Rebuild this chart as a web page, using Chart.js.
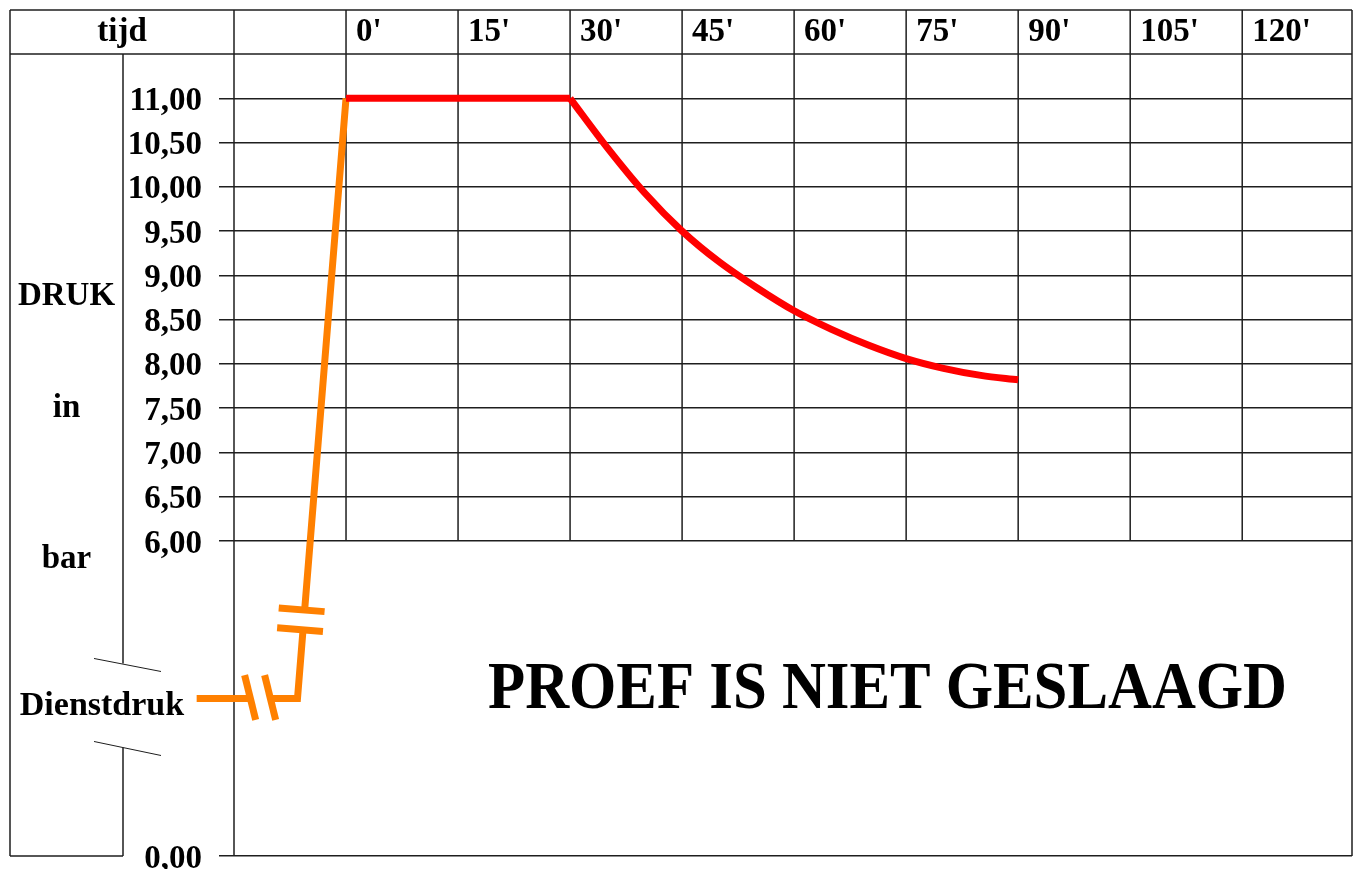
<!DOCTYPE html>
<html lang="nl">
<head>
<meta charset="utf-8">
<title>Drukproef</title>
<script src="https://cdn.jsdelivr.net/npm/chart.js@4.4.1/dist/chart.umd.min.js"></script>
<style>
  html, body { margin: 0; background: #fff; }
  canvas { display: block; }
</style>
</head>
<body>
<canvas id="druk" width="1359" height="869"></canvas>
<script>
// tijd in minuten, druk in bar
const tijdTicks = [-15, 0, 15, 30, 45, 60, 75, 90, 105, 120];
const drukTicks = [0, 6, 6.5, 7, 7.5, 8, 8.5, 9, 9.5, 10, 10.5, 11];
const dienstdruk = 3.0;

// opbouw van dienstdruk naar proefdruk (oranje)
const opbouwTijd = [-20, -6.5, 0];
const opbouwDruk = [dienstdruk, dienstdruk, 11];

// proefdruk vastgehouden (rood)
const vastTijd = [0, 30];
const vastDruk = [11, 11];

// drukverloop na 30' (rood)
const verloopTijd = [30, 35, 40, 45, 50, 55, 60, 65, 70, 75, 80, 85, 90];
const verloopDruk = [11, 10.44, 9.93, 9.5, 9.15, 8.86, 8.6, 8.39, 8.21, 8.06, 7.95, 7.87, 7.82];

// waar de oranje lijn onderbroken getekend wordt
const breekTijd = -11.5, breekDruk = 4.5;

const ZWART = '#1e1e1e', ROOD = '#ff0000', ORANJE = '#ff8000';
const FONT = '"Liberation Serif", "Times New Roman", serif';
const DIK = 7;

Chart.defaults.font = { family: FONT, size: 33, weight: 'bold' };
Chart.defaults.color = '#000';

// y-as met breuk: 0..6 bar samengedrukt onderaan, 6..max lineair erboven
class GebrokenScale extends Chart.LinearScale {
  static id = 'gebroken';
  static defaults = Chart.LinearScale.defaults;
  _dec(v) {
    const { breekBij: b, breekOp: f } = this.options;
    return v >= b ? f + (v - b) / (this.max - b) * (1 - f) : (v - this.min) / (b - this.min) * f;
  }
  getPixelForValue(v) {
    return v === null || v === undefined || isNaN(v) ? NaN : this.getPixelForDecimal(this._dec(v));
  }
  getValueForPixel(p) {
    const { breekBij: b, breekOp: f } = this.options;
    const d = this.getDecimalForPixel(p);
    return d >= f ? b + (d - f) / (1 - f) * (this.max - b) : this.min + d / f * (b - this.min);
  }
}
Chart.register(GebrokenScale);

const punten = (xs, ys) => xs.map((x, i) => ({ x, y: ys[i] }));
const lijn = (ctx, x1, y1, x2, y2) => { ctx.beginPath(); ctx.moveTo(x1, y1); ctx.lineTo(x2, y2); ctx.stroke(); };

// tabelraster, kolom links en de breuk in de as
const tabel = {
  id: 'tabel',
  beforeDatasetsDraw(chart) {
    const { ctx, chartArea: a, scales: { x, y } } = chart;
    const top = x.top, kop = x.bottom, links = y.left, as = links + 113;
    const y6 = y.getPixelForValue(6), yD = y.getPixelForValue(dienstdruk);
    ctx.save();
    ctx.strokeStyle = ZWART; ctx.lineWidth = 1.5;
    lijn(ctx, links, top, a.right, top);
    lijn(ctx, links, kop, a.right, kop);
    lijn(ctx, links, top, links, a.bottom);
    lijn(ctx, links, a.bottom, as, a.bottom);
    lijn(ctx, a.left, top, a.left, a.bottom);
    lijn(ctx, a.right, top, a.right, a.bottom);
    tijdTicks.filter(v => v >= 0).forEach(v => {
      const px = x.getPixelForValue(v);
      lijn(ctx, px, top, px, y6);
    });
    lijn(ctx, as, kop, as, yD - 35);
    lijn(ctx, as, yD + 49, as, a.bottom);
    ctx.lineWidth = 1;
    lijn(ctx, as - 29, yD - 40, as + 38, yD - 27);
    lijn(ctx, as - 29, yD + 43, as + 38, yD + 57);
    ctx.restore();
  },
  afterDatasetsDraw(chart) {
    const { ctx, scales: { x, y } } = chart;
    const p1 = { x: x.getPixelForValue(opbouwTijd[1]), y: y.getPixelForValue(opbouwDruk[1]) };
    const p2 = { x: x.getPixelForValue(opbouwTijd[2]), y: y.getPixelForValue(opbouwDruk[2]) };
    const breuk = (cx, cy, ux, uy, sx, sy, dx) => {
      ctx.save();
      ctx.lineCap = 'butt';
      ctx.strokeStyle = '#fff'; ctx.lineWidth = DIK + 4;
      lijn(ctx, cx - ux * 8, cy - uy * 8, cx + ux * 8, cy + uy * 8);
      ctx.strokeStyle = ORANJE; ctx.lineWidth = DIK;
      [-1, 1].forEach(k => {
        const mx = cx + k * 10 * ux + dx, my = cy + k * 10 * uy;
        lijn(ctx, mx - sx * 23, my - sy * 23, mx + sx * 23, my + sy * 23);
      });
      ctx.restore();
    };
    // breuk in het horizontale stuk
    breuk(x.getPixelForValue(breekTijd), p1.y - 1, 1, 0, 0.24, 0.97, 0);
    // breuk in het stijgende stuk
    const by = y.getPixelForValue(breekDruk);
    const t = (by - p1.y) / (p2.y - p1.y);
    const len = Math.hypot(p2.x - p1.x, p2.y - p1.y);
    const ux = (p1.x - p2.x) / len, uy = (p1.y - p2.y) / len;
    breuk(p1.x + t * (p2.x - p1.x), by, ux, uy, -uy, ux, -3);
  },
  afterDraw(chart) {
    const { ctx, chartArea: a, scales: { x, y } } = chart;
    const links = y.left, as = links + 113, kol = (links + as) / 2;
    const yD = y.getPixelForValue(dienstdruk);
    ctx.save();
    ctx.fillStyle = '#000';
    ctx.textAlign = 'center';
    ctx.textBaseline = 'alphabetic';
    ctx.font = 'bold 33px ' + FONT;
    ctx.fillText('tijd', (links + a.left) / 2, x.top + 31);
    ctx.fillText('DRUK', kol, 305);
    ctx.fillText('in', kol, 417);
    ctx.fillText('bar', kol, 568);
    ctx.font = 'bold 34px ' + FONT;
    ctx.fillText('Dienstdruk', 102, yD + 17);
    ctx.font = 'bold 68px ' + FONT;
    const tekst = 'PROEF IS NIET GESLAAGD';
    const w = ctx.measureText(tekst).width;
    ctx.translate(887.5, 708);
    ctx.scale(799 / w, 1);
    ctx.fillText(tekst, 0, 0);
    ctx.restore();
  }
};

new Chart(document.getElementById('druk'), {
  type: 'line',
  data: {
    datasets: [
      { label: 'proefdruk', data: punten(vastTijd, vastDruk), borderColor: ROOD, borderWidth: DIK,
        pointRadius: 0, tension: 0, borderCapStyle: 'butt' },
      { label: 'drukverloop', data: punten(verloopTijd, verloopDruk), borderColor: ROOD, borderWidth: DIK,
        pointRadius: 0, cubicInterpolationMode: 'monotone', borderCapStyle: 'butt' },
      { label: 'opbouw', data: punten(opbouwTijd, opbouwDruk), borderColor: ORANJE, borderWidth: DIK,
        pointRadius: 0, tension: 0, clip: false, borderJoinStyle: 'miter', borderCapStyle: 'butt' },
    ]
  },
  options: {
    responsive: false,
    animation: false,
    events: [],
    layout: { padding: { left: 10, top: 10, right: 7, bottom: 13 } },
    plugins: { legend: { display: false }, tooltip: { enabled: false } },
    scales: {
      x: {
        type: 'linear', position: 'top', min: -15, max: 134.7, bounds: 'data',
        grid: { display: false }, border: { display: false },
        afterBuildTicks: s => { s.ticks = tijdTicks.map(value => ({ value })); },
        afterFit: s => { s.height = 44; s.paddingLeft = 0; s.paddingRight = 0; },
        ticks: { autoSkip: false, maxRotation: 0, minRotation: 0, align: 'start', labelOffset: 10, padding: -6,
          callback: v => v < 0 ? '' : v + "'" }
      },
      y: {
        type: 'gebroken', min: 0, max: 11.5, breekBij: 6, breekOp: 0.3928, bounds: 'data',
        grid: { color: ZWART, lineWidth: 1.5, tickLength: 15 }, border: { display: false },
        afterBuildTicks: s => { s.ticks = drukTicks.map(value => ({ value })); },
        afterFit: s => { s.width = 224; s.paddingTop = 0; s.paddingBottom = 0; },
        ticks: { autoSkip: false, padding: 17, labelOffset: c => c.tick && c.tick.value === 0 ? -1 : 3,
          callback: v => v.toFixed(2).replace('.', ',') }
      }
    }
  },
  plugins: [tabel]
});
</script>
</body>
</html>
